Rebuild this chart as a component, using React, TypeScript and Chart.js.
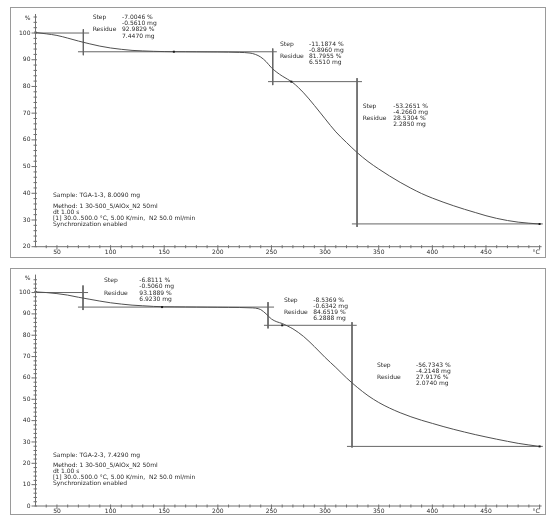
import React, { useEffect, useRef } from 'react';
import { Chart, registerables } from 'chart.js';

Chart.register(...registerables);

// ---------- data ----------
const temperatures = [
  30, 40, 50, 60, 70, 80, 90, 100, 110, 120, 130, 140, 150, 160, 170, 180, 190, 200, 210, 220, 230,
  235, 240, 245, 250, 255, 260, 265, 270,
  280, 290, 300, 310, 320, 330, 340, 350, 360, 370, 380, 390, 400, 410, 420, 430, 440, 450, 460, 470, 480, 490, 500,
];

const massTGA13 = [
  100.2, 99.7, 99.1, 98.1, 97.0, 96.0, 95.1, 94.4, 93.9, 93.5, 93.3, 93.15, 93.05, 93.0, 92.98, 92.95, 92.92, 92.9, 92.85, 92.75, 92.5,
  92.0, 91.0, 89.3, 87.0, 85.3, 83.9, 82.7, 81.4,
  77.6, 72.9, 67.9, 63.0, 59.0, 55.2, 51.9, 49.1, 46.5, 44.1, 41.9, 39.9, 38.2, 36.7, 35.3, 34.0, 32.8, 31.6, 30.6, 29.8, 29.2, 28.8, 28.5,
];

const massTGA23 = [
  100.3, 100.0, 99.5, 98.8, 97.8, 96.9, 96.0, 95.2, 94.6, 94.1, 93.8, 93.5, 93.35, 93.3, 93.25, 93.2, 93.15, 93.1, 93.05, 93.0, 92.85,
  92.7, 92.0, 90.0, 87.6, 86.3, 85.5, 84.3, 83.0,
  79.4, 74.7, 69.6, 64.9, 60.0, 55.6, 51.7, 48.5, 45.9, 43.7, 41.8, 40.15, 38.7, 37.25, 35.9, 34.65, 33.45, 32.35, 31.3, 30.3, 29.35, 28.6, 27.9,
];

// step evaluation lines: [t1, v1, t2, v2]
const stepLinesTGA13 = [
  [30, 100, 80, 100],
  [69.6, 92.98, 255, 92.98],
  [74.6, 101.4, 74.6, 91.7],
  [251.2, 94.2, 251.2, 80.5],
  [246.8, 81.8, 334.4, 81.8],
  [329.8, 83.1, 329.8, 27.4],
  [325, 28.53, 503, 28.53],
];
const stepLinesTGA23 = [
  [30, 100, 79, 100],
  [69.6, 93.19, 252.4, 93.19],
  [74.3, 103.3, 74.3, 91.8],
  [246.8, 95.5, 246.8, 83.2],
  [243, 84.65, 329.5, 84.65],
  [325.1, 86.1, 325.1, 27.4],
  [320.4, 27.92, 503, 27.92],
];

const markersTGA13 = [[30, 100.2], [159, 93.0], [268.5, 81.8], [500, 28.5]];
const markersTGA23 = [[30, 100.3], [148, 93.19], [260, 84.65], [500, 27.92]];

const stepValuesTGA13 = [
  ['-7.0046 %', '-0.5610 mg', '92.9829 %', '7.4470 mg'],
  ['-11.1874 %', '-0.8960 mg', '81.7955 %', '6.5510 mg'],
  ['-53.2651 %', '-4.2660 mg', '28.5304 %', '2.2850 mg'],
];
const stepValuesTGA23 = [
  ['-6.8111 %', '-0.5060 mg', '93.1889 %', '6.9230 mg'],
  ['-8.5369 %', '-0.6342 mg', '84.6519 %', '6.2888 mg'],
  ['-56.7343 %', '-4.2148 mg', '27.9176 %', '2.0740 mg'],
];

const sampleTextTGA13 = [
  'Sample: TGA-1-3, 8.0090 mg',
  'Method: 1 30-500_5/AlOx_N2 50ml',
  'dt 1.00 s',
  '[1] 30.0..500.0 °C, 5.00 K/min,  N2 50.0 ml/min',
  'Synchronization enabled',
];
const sampleTextTGA23 = [
  'Sample: TGA-2-3, 7.4290 mg',
  'Method: 1 30-500_5/AlOx_N2 50ml',
  'dt 1.00 s',
  '[1] 30.0..500.0 °C, 5.00 K/min,  N2 50.0 ml/min',
  'Synchronization enabled',
];

const xTickValues = [50, 100, 150, 200, 250, 300, 350, 400, 450, 500];
const xTickLabels = ['50', '100', '150', '200', '250', '300', '350', '400', '450', '°C'];
const yTickValuesTGA13 = [20, 30, 40, 50, 60, 70, 80, 90, 100];
const yTickValuesTGA23 = [0, 10, 20, 30, 40, 50, 60, 70, 80, 90, 100];
const yUnitLabel = '%';

// ---------- layout / style ----------
const FONT = '6px "DejaVu Sans"';
const TEXT_COLOR = '#2a2a2a';
const AXIS_COLOR = '#707070';
const CURVE_COLOR = '#505050';
const STEP_COLOR = '#666666';

// annotation anchors (data coords): label column temp, value column temp, first row value
const anchorsTGA13 = [
  { label: 83.3, value: 110.7, top: 105.75 },
  { label: 258, value: 285, top: 95.7 },
  { label: 335.1, value: 363.6, top: 72.6 },
];
const anchorsTGA23 = [
  { label: 93.9, value: 126.8, top: 105.5 },
  { label: 261.7, value: 289, top: 96.5 },
  { label: 348.4, value: 384.8, top: 66.0 },
];

type PanelCfg = {
  top: number;
  height: number;
  yMin: number;
  yMax: number;
  padding: { left: number; top: number; right: number; bottom: number };
  mass: number[];
  stepLines: number[][];
  markers: number[][];
  stepValues: string[][];
  anchors: { label: number; value: number; top: number }[];
  yTicks: number[];
  sample: string[];
};

const panels: PanelCfg[] = [
  {
    top: 7,
    height: 251,
    yMin: 20,
    yMax: 106,
    padding: { left: 24.5, top: 9, right: 5.4, bottom: 10.3 },
    mass: massTGA13,
    stepLines: stepLinesTGA13,
    markers: markersTGA13,
    stepValues: stepValuesTGA13,
    anchors: anchorsTGA13,
    yTicks: yTickValuesTGA13,
    sample: sampleTextTGA13,
  },
  {
    top: 268,
    height: 247,
    yMin: 0,
    yMax: 107,
    padding: { left: 24.5, top: 8.6, right: 5.4, bottom: 8 },
    mass: massTGA23,
    stepLines: stepLinesTGA23,
    markers: markersTGA23,
    stepValues: stepValuesTGA23,
    anchors: anchorsTGA23,
    yTicks: yTickValuesTGA23,
    sample: sampleTextTGA23,
  },
];

const X_MIN = 30;
const X_MAX = 500;

function decorPlugin(cfg: PanelCfg) {
  return {
    id: 'tgaDecor',
    afterDraw(chart: any) {
      const { ctx, chartArea: a, scales } = chart;
      const x = scales.x;
      const y = scales.y;
      ctx.save();
      // axes
      ctx.strokeStyle = AXIS_COLOR;
      ctx.lineWidth = 1;
      ctx.beginPath();
      ctx.moveTo(a.left, a.top - 3);
      ctx.lineTo(a.left, a.bottom);
      ctx.moveTo(a.left - 1, a.bottom);
      ctx.lineTo(x.getPixelForValue(X_MAX) + 2, a.bottom);
      ctx.stroke();

      // x ticks
      ctx.beginPath();
      for (let v = X_MIN + 10; v <= X_MAX; v += 10) {
        const px = x.getPixelForValue(v);
        const major = xTickValues.includes(v);
        ctx.moveTo(px, a.bottom - 1.5);
        ctx.lineTo(px, a.bottom + (major ? 3 : 1.5));
      }
      // y ticks
      for (let v = cfg.yMin; v <= cfg.yMax; v += 2) {
        const py = y.getPixelForValue(v);
        const major = cfg.yTicks.includes(v);
        ctx.moveTo(a.left - (major ? 4 : 2), py);
        ctx.lineTo(a.left + 1.5, py);
      }
      ctx.stroke();

      ctx.fillStyle = TEXT_COLOR;
      ctx.font = FONT;
      // x labels
      ctx.textBaseline = 'middle';
      xTickValues.forEach((v, i) => {
        const px = x.getPixelForValue(v);
        ctx.textAlign = i === xTickValues.length - 1 ? 'right' : 'center';
        ctx.fillText(xTickLabels[i], px, a.bottom + 5.5);
      });
      // y labels
      ctx.textAlign = 'right';
      cfg.yTicks.forEach((v) => {
        ctx.fillText(String(v), a.left - 5, y.getPixelForValue(v));
      });
      ctx.fillText(yUnitLabel, a.left - 5, y.getPixelForValue(cfg.yMax) + 1);

      // step annotations
      ctx.textAlign = 'left';
      const rowH = 6.1;
      cfg.anchors.forEach((an, i) => {
        const lx = x.getPixelForValue(an.label);
        const vx = x.getPixelForValue(an.value);
        const ty = y.getPixelForValue(an.top);
        const vals = cfg.stepValues[i];
        ctx.fillText('Step', lx, ty);
        ctx.fillText('Residue', lx, ty + 2 * rowH);
        vals.forEach((s, r) => ctx.fillText(s, vx, ty + r * rowH));
      });

      // sample info
      const sx = a.left + 17.5;
      ctx.fillText(cfg.sample[0], sx, a.bottom - 51);
      for (let i = 1; i < cfg.sample.length; i++) {
        ctx.fillText(cfg.sample[i], sx, a.bottom - 40.5 + (i - 1) * 6);
      }
      ctx.restore();
    },
  };
}

function TgaPanel({ cfg }: { cfg: PanelCfg }) {
  const ref = useRef<HTMLCanvasElement>(null);
  const w = 534;
  const h = cfg.height - 2;
  useEffect(() => {
    const datasets: any[] = [
      {
        type: 'line',
        data: temperatures.map((t, i) => ({ x: t, y: cfg.mass[i] })),
        borderColor: CURVE_COLOR,
        borderWidth: 1,
        pointRadius: 0,
        cubicInterpolationMode: 'monotone',
        fill: false,
        order: 1,
      },
      ...cfg.stepLines.map((s) => ({
        type: 'line',
        data: [
          { x: s[0], y: s[1] },
          { x: s[2], y: s[3] },
        ],
        borderColor: STEP_COLOR,
        borderWidth: 1,
        pointRadius: 0,
        fill: false,
        clip: false,
        order: 2,
      })),
      {
        type: 'scatter',
        data: cfg.markers.map((m) => ({ x: m[0], y: m[1] })),
        pointStyle: 'rect',
        pointRadius: 1.4,
        backgroundColor: '#1a1a1a',
        borderColor: '#1a1a1a',
        borderWidth: 0,
        clip: false,
        order: 0,
      },
    ];
    const chart = new Chart(ref.current as HTMLCanvasElement, {
      type: 'line',
      data: { datasets },
      options: {
        animation: false,
        responsive: false,
        devicePixelRatio: 1,
        layout: { padding: cfg.padding, autoPadding: false },
        plugins: { legend: { display: false }, tooltip: { enabled: false } },
        events: [],
        scales: {
          x: { type: 'linear', min: X_MIN, max: X_MAX, display: false },
          y: { type: 'linear', min: cfg.yMin, max: cfg.yMax, display: false },
        },
      } as any,
      plugins: [decorPlugin(cfg)],
    });
    return () => chart.destroy();
  }, [cfg]);
  return (
    <div
      style={{
        position: 'absolute',
        left: 10,
        top: cfg.top,
        width: 536,
        height: cfg.height,
        border: '1px solid #9a9a9a',
        boxSizing: 'border-box',
        background: '#fff',
      }}
    >
      <canvas ref={ref} width={w} height={h} style={{ display: 'block', width: w, height: h }} />
    </div>
  );
}

export default function App() {
  return (
    <div style={{ position: 'absolute', left: 0, top: 0, width: 548, height: 517, background: '#fff' }}>
      {panels.map((p, i) => (
        <TgaPanel key={i} cfg={p} />
      ))}
    </div>
  );
}
